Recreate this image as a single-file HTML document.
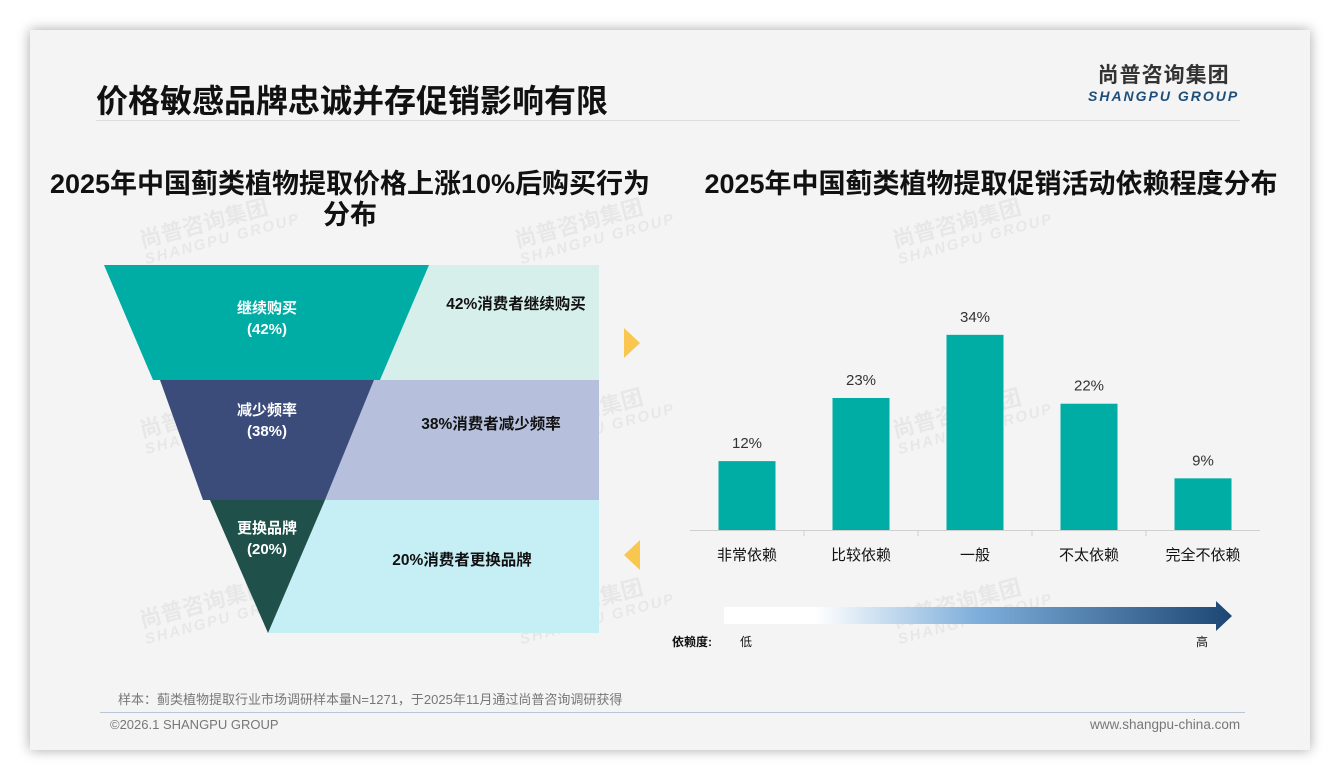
<!DOCTYPE html>
<html><head><meta charset="utf-8">
<style>
body{margin:0;width:1340px;height:780px;background:#fff;position:relative;overflow:hidden;font-family:"Liberation Sans","Noto Sans CJK SC",sans-serif}
.card{position:absolute;left:30px;top:30px;width:1280px;height:720px;background:#f4f4f4;box-shadow:0 0 12px rgba(0,0,0,.35)}
.abs{position:absolute}
.wm{position:absolute;color:rgba(0,0,0,.05);font-weight:bold;transform:rotate(-15deg);font-size:22px;line-height:20px;white-space:nowrap}
.wm span{display:block;font-size:15px;font-style:italic;letter-spacing:2px}
</style></head><body>
<div class="card"></div>
<div class="abs" style="left:96px;top:76px;font-size:32px;font-weight:bold;color:#111">价格敏感品牌忠诚并存促销影响有限</div>
<div class="abs" style="left:96px;top:120px;width:1144px;height:1px;background:#ddd"></div>
<div class="abs" style="left:1088px;top:64px;text-align:center">
<div style="font-size:21px;font-weight:bold;color:#333;letter-spacing:1px;line-height:24px">尚普咨询集团</div>
<div style="font-size:14px;font-weight:bold;font-style:italic;color:#1e4f7a;letter-spacing:2px;line-height:16px">SHANGPU GROUP</div></div>

<div class="wm" style="left:140px;top:210px">尚普咨询集团<span>SHANGPU GROUP</span></div>
<div class="wm" style="left:515px;top:210px">尚普咨询集团<span>SHANGPU GROUP</span></div>
<div class="wm" style="left:893px;top:210px">尚普咨询集团<span>SHANGPU GROUP</span></div>
<div class="wm" style="left:140px;top:400px">尚普咨询集团<span>SHANGPU GROUP</span></div>
<div class="wm" style="left:515px;top:400px">尚普咨询集团<span>SHANGPU GROUP</span></div>
<div class="wm" style="left:893px;top:400px">尚普咨询集团<span>SHANGPU GROUP</span></div>
<div class="wm" style="left:140px;top:590px">尚普咨询集团<span>SHANGPU GROUP</span></div>
<div class="wm" style="left:515px;top:590px">尚普咨询集团<span>SHANGPU GROUP</span></div>
<div class="wm" style="left:893px;top:590px">尚普咨询集团<span>SHANGPU GROUP</span></div>

<div class="abs" style="left:20px;top:169px;width:660px;text-align:center;font-size:27px;font-weight:bold;color:#111;line-height:31px">2025年中国蓟类植物提取价格上涨10%后购买行为<br>分布</div>
<div class="abs" style="left:660px;top:169px;width:662px;text-align:center;font-size:27px;font-weight:bold;color:#111;line-height:31px">2025年中国蓟类植物提取促销活动依赖程度分布</div>

<svg class="abs" style="left:0;top:0" width="1340" height="780">
<g>
<polygon points="429,265 599,265 599,380 380,380" fill="#d6efeb"/>
<polygon points="374,380 599,380 599,500 325,500" fill="#b6c0dc"/>
<polygon points="325,500 599,500 599,633 268,633" fill="#c6eef5"/>
<polygon points="104,265 429,265 380,380 153,380" fill="#00ada5"/>
<polygon points="160,380 374,380 325,500 203,500" fill="#3b4b7a"/>
<polygon points="210,500 325,500 268,633" fill="#1f5049"/>
<g font-weight="bold" fill="#fff" font-size="15" text-anchor="middle">
<text x="267" y="313">继续购买</text><text x="267" y="334">(42%)</text>
<text x="267" y="415">减少频率</text><text x="267" y="436">(38%)</text>
<text x="267" y="533">更换品牌</text><text x="267" y="554">(20%)</text>
</g>
<g font-weight="bold" fill="#111" font-size="15.5" text-anchor="middle">
<text x="516" y="309">42%消费者继续购买</text>
<text x="491" y="429">38%消费者减少频率</text>
<text x="462" y="565">20%消费者更换品牌</text>
</g>
</g>
<polygon points="624,328 640,343 624,358" fill="#f9c74f"/>
<polygon points="640,540 624,555 640,570" fill="#f9c74f"/>
<g id="bars"></g>
<defs><linearGradient id="gr" x1="0" x2="1"><stop offset="0" stop-color="#fff"/><stop offset="0.18" stop-color="#fff"/><stop offset="0.5" stop-color="#7eaedb"/><stop offset="1" stop-color="#1c4673"/></linearGradient></defs>
<polygon points="724,607 1216,607 1216,601 1232,616 1216,631 1216,624 724,624" fill="url(#gr)"/>
<text x="672" y="646" font-size="12" font-weight="bold" fill="#111">依赖度:</text>
<text x="740" y="646" font-size="12" fill="#111">低</text>
<text x="1196" y="646" font-size="12" fill="#111">高</text>
</svg>

<div class="abs" style="left:118px;top:689px;font-size:13px;color:#777">样本：蓟类植物提取行业市场调研样本量N=1271，于2025年11月通过尚普咨询调研获得</div>
<div class="abs" style="left:100px;top:712px;width:1145px;height:1px;background:#b7c7d8"></div>
<div class="abs" style="left:110px;top:717px;font-size:13px;color:#777">©2026.1 SHANGPU GROUP</div>
<div class="abs" style="left:1090px;top:717px;font-size:13.5px;color:#777">www.shangpu-china.com</div>
<script>
const categories=["非常依赖","比较依赖","一般","不太依赖","完全不依赖"];
const values=[12,23,34,22,9];
const valueLabels=["12%","23%","34%","22%","9%"];
const NS="http://www.w3.org/2000/svg";
const g=document.getElementById('bars');
const x0=690,x1=1260,base=530,pxPer=5.74;
const band=(x1-x0)/categories.length;
const xc=i=>x0+band*(i+0.5);
const y=v=>base-v*pxPer;
const ax=document.createElementNS(NS,'line');


ax.setAttribute('x1',x0);ax.setAttribute('x2',x1);ax.setAttribute('y1',base+0.5);ax.setAttribute('y2',base+0.5);ax.setAttribute('stroke','#d0d0d0');
g.appendChild(ax);
categories.forEach((c,i)=>{
 const r=document.createElementNS(NS,'rect');
 
 
 r.setAttribute('x',xc(i)-28.5);r.setAttribute('width',57);r.setAttribute('y',y(values[i]));r.setAttribute('height',base-y(values[i]));r.setAttribute('fill','#00ada5');
 g.appendChild(r);
 const t=document.createElementNS(NS,'text');
 
 
 t.setAttribute('x',xc(i));t.setAttribute('y',y(values[i])-13);t.setAttribute('text-anchor','middle');t.setAttribute('font-size','15');t.setAttribute('fill','#333');
 t.textContent=valueLabels[i];g.appendChild(t);
 const l=document.createElementNS(NS,'text');
 
 
 l.setAttribute('x',xc(i));l.setAttribute('y',560);l.setAttribute('text-anchor','middle');l.setAttribute('font-size','15');l.setAttribute('fill','#111');
 l.textContent=c;g.appendChild(l);
 if(i>0){const tk=document.createElementNS(NS,'line');
 
 
 tk.setAttribute('x1',x0+band*i);tk.setAttribute('x2',x0+band*i);tk.setAttribute('y1',base);tk.setAttribute('y2',base+6);tk.setAttribute('stroke','#d0d0d0');g.appendChild(tk);}
});
</script>
</body></html>
